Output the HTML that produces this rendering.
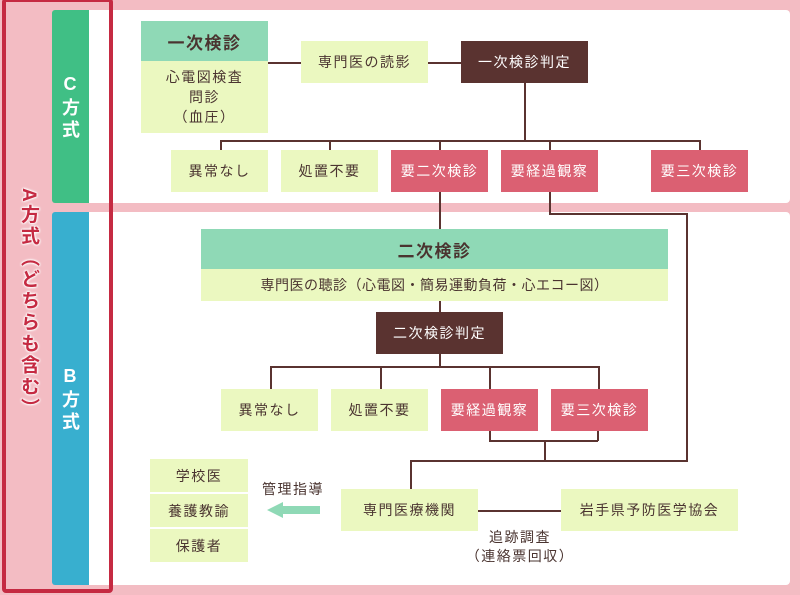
<!DOCTYPE html>
<html><head><meta charset="utf-8"><style>
*{margin:0;padding:0;box-sizing:border-box}
body{width:800px;height:595px;background:#f3bcc3;position:relative;overflow:hidden;font-family:"Liberation Sans","Noto Sans CJK JP",sans-serif;color:#4a3430}
.a{position:absolute}
.b{position:absolute;display:flex;align-items:center;justify-content:center;font-size:14px;letter-spacing:1.5px;background:#ebf8c0;color:#4a3430}
.r{background:#db6072;color:#fff}
.d{background:#5a3330;color:#fff}
.g{background:#8fd9b6}
.h{position:absolute;background:#5a3330;height:1.5px}
.v{position:absolute;background:#5a3330;width:1.5px}
.vt{writing-mode:vertical-rl;text-orientation:upright;font-weight:bold;color:#fff;font-size:18px;letter-spacing:4px}
</style></head><body>
<div class="a" style="left:89px;top:10px;width:701px;height:193px;background:#fff;border-radius:0 4px 4px 0"></div>
<div class="a" style="left:89px;top:212px;width:701px;height:373px;background:#fff;border-radius:0 4px 4px 0"></div>
<div class="a" style="left:52px;top:10px;width:37px;height:193px;background:#40bf85;border-radius:3px 0 0 3px"></div>
<div class="a" style="left:52px;top:212px;width:37px;height:373px;background:#38afcf;border-radius:3px 0 0 3px"></div>
<div class="a vt" style="left:60px;top:74px;line-height:20px">C方式</div>
<div class="a vt" style="left:60px;top:366px;line-height:20px">B方式</div>
<div class="a" style="left:2px;top:-2px;width:111px;height:595px;border:4px solid #c52a42;border-radius:4px"></div>
<div class="a" style="left:17px;top:188px;writing-mode:vertical-rl;font-size:19px;font-weight:bold;color:#c52a42;line-height:22px;letter-spacing:2.5px;text-shadow:0 0 2px #fff,0 0 2px #fff,0 0 2px #fff,0 0 3px #fff">A方式（どちらも含む）</div>

<div class="b g" style="left:141px;top:21px;width:127px;height:40px;font-size:17px;font-weight:bold">一次検診</div>
<div class="b" style="left:141px;top:61px;width:127px;height:72px;line-height:20px;text-align:center">心電図検査<br>問診<br>（血圧）</div>
<div class="h" style="left:268px;top:62px;width:33px"></div>
<div class="b" style="left:301px;top:41px;width:127px;height:42px">専門医の読影</div>
<div class="h" style="left:428px;top:62px;width:33px"></div>
<div class="b d" style="left:461px;top:41px;width:127px;height:42px">一次検診判定</div>
<div class="v" style="left:524px;top:83px;height:57px"></div>
<div class="h" style="left:220px;top:140px;width:480px"></div>
<div class="v" style="left:220px;top:140px;height:10px"></div>
<div class="v" style="left:329px;top:140px;height:10px"></div>
<div class="v" style="left:439px;top:140px;height:10px"></div>
<div class="v" style="left:549px;top:140px;height:10px"></div>
<div class="v" style="left:699px;top:140px;height:10px"></div>
<div class="b" style="left:171px;top:150px;width:97px;height:42px">異常なし</div>
<div class="b" style="left:281px;top:150px;width:97px;height:42px">処置不要</div>
<div class="b r" style="left:391px;top:150px;width:97px;height:42px">要二次検診</div>
<div class="b r" style="left:501px;top:150px;width:97px;height:42px">要経過観察</div>
<div class="b r" style="left:651px;top:150px;width:97px;height:42px">要三次検診</div>
<div class="v" style="left:439px;top:192px;height:37px"></div>
<div class="v" style="left:549px;top:192px;height:21px"></div>
<div class="h" style="left:549px;top:213px;width:139px"></div>
<div class="v" style="left:686px;top:213px;height:248px"></div>

<div class="b g" style="left:201px;top:229px;width:467px;height:40px;font-size:17px;font-weight:bold">二次検診</div>
<div class="b" style="left:201px;top:269px;width:467px;height:32px;letter-spacing:0.5px">専門医の聴診（心電図・簡易運動負荷・心エコー図）</div>
<div class="v" style="left:439px;top:301px;height:11px"></div>
<div class="b d" style="left:376px;top:312px;width:127px;height:42px">二次検診判定</div>
<div class="v" style="left:439px;top:354px;height:12px"></div>
<div class="h" style="left:270px;top:366px;width:329px"></div>
<div class="v" style="left:270px;top:366px;height:23px"></div>
<div class="v" style="left:380px;top:366px;height:23px"></div>
<div class="v" style="left:489px;top:366px;height:23px"></div>
<div class="v" style="left:598px;top:366px;height:23px"></div>
<div class="b" style="left:221px;top:389px;width:97px;height:42px">異常なし</div>
<div class="b" style="left:331px;top:389px;width:97px;height:42px">処置不要</div>
<div class="b r" style="left:441px;top:389px;width:97px;height:42px">要経過観察</div>
<div class="b r" style="left:551px;top:389px;width:97px;height:42px">要三次検診</div>
<div class="v" style="left:489px;top:431px;height:10px"></div>
<div class="v" style="left:597px;top:431px;height:10px"></div>
<div class="h" style="left:489px;top:440px;width:109px"></div>
<div class="v" style="left:544px;top:440px;height:20px"></div>
<div class="h" style="left:410px;top:460px;width:278px"></div>
<div class="v" style="left:410px;top:460px;height:29px"></div>
<div class="b" style="left:341px;top:489px;width:137px;height:42px">専門医療機関</div>
<div class="h" style="left:478px;top:510px;width:83px"></div>
<div class="b" style="left:561px;top:489px;width:177px;height:42px">岩手県予防医学協会</div>
<div class="a" style="left:460px;top:528px;width:120px;text-align:center;font-size:14px;line-height:19px;letter-spacing:1.5px">追跡調査<br>（連絡票回収）</div>
<div class="b" style="left:150px;top:459px;width:98px;height:33px">学校医</div>
<div class="b" style="left:150px;top:494px;width:98px;height:33px">養護教諭</div>
<div class="b" style="left:150px;top:529px;width:98px;height:33px">保護者</div>
<div class="a" style="left:262px;top:479px;font-size:14px;letter-spacing:1.5px">管理指導</div>
<div class="a" style="left:282px;top:506px;width:38px;height:8px;background:#8fd9b6"></div>
<div class="a" style="left:267px;top:502px;width:0;height:0;border-top:8px solid transparent;border-bottom:8px solid transparent;border-right:16px solid #8fd9b6"></div>
</body></html>
